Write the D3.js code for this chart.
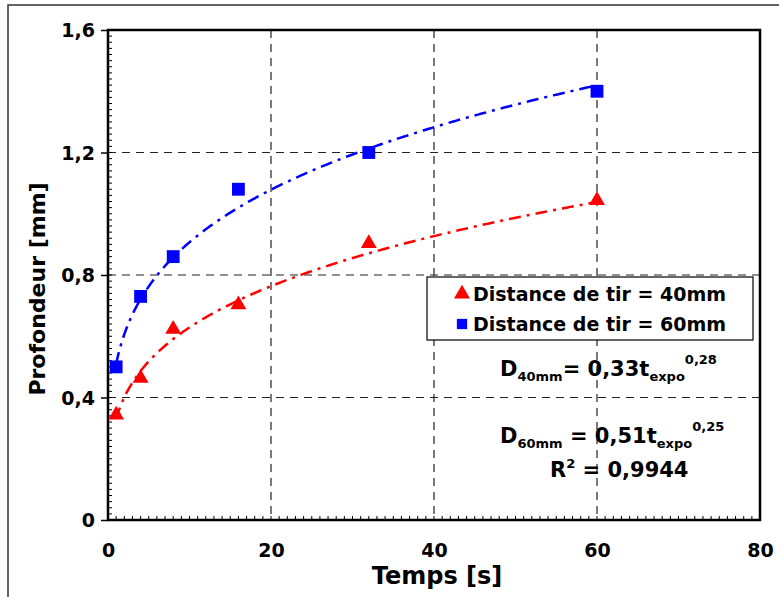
<!DOCTYPE html>
<meta charset="utf-8">
<style>
body { margin: 0; background: #fff; }
text { font-family: "DejaVu Sans", Verdana, sans-serif; font-weight: bold; fill: #000; }
.grid line { stroke: #222; stroke-width: 1.2; stroke-dasharray: 8,6; }
</style>
<svg width="779" height="597"></svg>
<script src="https://d3js.org/d3.v7.min.js"></script>
<script>

// values
var temps = [1, 4, 8, 16, 32, 60];
var prof40 = [0.34, 0.46, 0.62, 0.70, 0.90, 1.04];
var prof60 = [0.50, 0.73, 0.86, 1.08, 1.20, 1.40];
// power fit coefficients printed on the chart: D = a * t^b
var fit40 = [0.33, 0.28];
var fit60 = [0.51, 0.25];
var xTicks = [0, 20, 40, 60, 80];
var yTicks = [0, 0.4, 0.8, 1.2, 1.6];
var yTickLabels = ["0", "0,4", "0,8", "1,2", "1,6"];
var legendLabels = ["Distance de tir = 40mm", "Distance de tir = 60mm"];

var svg = d3.select("svg");
var plotL = 108, plotR = 760, plotT = 30, plotB = 520;

var x = d3.scaleLinear().domain([0, 80]).range([plotL, plotR]);
var y = d3.scaleLinear().domain([0, 1.6]).range([plotB, plotT]);

// outer frame (right and bottom edges fall outside the picture)
svg.append("path")
    .attr("d", "M8,600 L8,5 L785,5")
    .attr("fill", "none")
    .attr("stroke", "#333")
    .attr("stroke-width", 1.5);

// grid
var grid = svg.append("g").attr("class", "grid");
grid.selectAll(".gy").data(yTicks.slice(1, -1)).enter().append("line")
    .attr("x1", plotL).attr("x2", plotR)
    .attr("y1", function(d) { return y(d); })
    .attr("y2", function(d) { return y(d); });
grid.selectAll(".gx").data(xTicks.slice(1, -1)).enter().append("line")
    .attr("y1", plotT).attr("y2", plotB)
    .attr("x1", function(d) { return x(d); })
    .attr("x2", function(d) { return x(d); });

// minor ticks, inside
var minor = svg.append("g").attr("stroke", "#000").attr("stroke-width", 1);
minor.selectAll(".my").data(d3.range(0, 81).map(function(i) { return i * 0.02; })).enter().append("line")
    .attr("x1", plotL).attr("x2", plotL + 4)
    .attr("y1", function(d) { return y(d); })
    .attr("y2", function(d) { return y(d); });
minor.selectAll(".mx").data(d3.range(0, 81)).enter().append("line")
    .attr("y1", plotB).attr("y2", plotB - 4)
    .attr("x1", function(d) { return x(d); })
    .attr("x2", function(d) { return x(d); });

// y axis with outside major ticks and labels
var yAxis = d3.axisLeft(y)
    .tickValues(yTicks)
    .tickSize(7)
    .tickPadding(6)
    .tickFormat(function(d, i) { return yTickLabels[i]; });
var gy = svg.append("g").attr("transform", "translate(" + plotL + ",0)").call(yAxis);
gy.select(".domain").remove();
gy.selectAll("line").attr("stroke", "#000").attr("stroke-width", 1.5);
gy.selectAll("text").style("font-size", "19px").attr("dy", "0.36em");

var xAxis = d3.axisBottom(x)
    .tickValues(xTicks)
    .tickSize(0)
    .tickPadding(24)
    .tickFormat(d3.format("d"));
var gx = svg.append("g").attr("transform", "translate(0," + plotB + ")").call(xAxis);
gx.select(".domain").remove();
gx.selectAll("text").style("font-size", "19px");

// plot border
svg.append("rect")
    .attr("x", plotL).attr("y", plotT)
    .attr("width", plotR - plotL).attr("height", plotB - plotT)
    .attr("fill", "none")
    .attr("stroke", "#000")
    .attr("stroke-width", 2.5);

// axis titles
svg.append("text")
    .attr("transform", "translate(45," + ((plotT + plotB) / 2 + 14) + ") rotate(-90)")
    .attr("text-anchor", "middle")
    .style("font-size", "22px")
    .text("Profondeur [mm]");
svg.append("text")
    .attr("x", 437).attr("y", 584)
    .attr("text-anchor", "middle")
    .style("font-size", "24px")
    .text("Temps [s]");

// trend lines from the printed fits
var tFit = d3.range(1, 60.01, 0.25);
var line = d3.line()
    .x(function(d) { return x(d[0]); })
    .y(function(d) { return y(d[1]); });
function fitPoints(c) {
  return tFit.map(function(t) { return [t, c[0] * Math.pow(t, c[1])]; });
}
var plot = svg.append("g");
plot.append("path")
    .attr("d", line(fitPoints(fit40)))
    .attr("fill", "none")
    .attr("stroke", "#ff0000")
    .attr("stroke-width", 2.5)
    .attr("stroke-dasharray", "12,6,3,6");
plot.append("path")
    .attr("d", line(fitPoints(fit60)))
    .attr("fill", "none")
    .attr("stroke", "#0000ff")
    .attr("stroke-width", 2.5)
    .attr("stroke-dasharray", "12,6,3,6");

// markers
var tri = d3.symbol().type(d3.symbolTriangle).size(110);
var sq = d3.symbol().type(d3.symbolSquare).size(165);
plot.selectAll(".p40").data(temps).enter().append("path")
    .attr("d", tri)
    .attr("fill", "#ff0000")
    .attr("transform", function(d, i) { return "translate(" + x(d) + "," + (y(prof40[i]) - 1) + ")"; });
plot.selectAll(".p60").data(temps).enter().append("path")
    .attr("d", sq)
    .attr("fill", "#0000ff")
    .attr("transform", function(d, i) { return "translate(" + x(d) + "," + y(prof60[i]) + ")"; });

// legend
var lg = svg.append("g").attr("transform", "translate(427,277)");
lg.append("rect")
    .attr("width", 326).attr("height", 63)
    .attr("fill", "#fff")
    .attr("stroke", "#000")
    .attr("stroke-width", 1.2);
var shapes = [tri, sq];
var colors = ["#ff0000", "#0000ff"];
legendLabels.forEach(function(lbl, i) {
  var cy = 17 + i * 30;
  lg.append("path")
      .attr("d", shapes[i])
      .attr("fill", colors[i])
      .attr("transform", "translate(35," + cy + ")" + (i === 1 ? " scale(0.8)" : ""));
  lg.append("text")
      .attr("x", 46).attr("y", cy)
      .attr("dy", "0.36em")
      .style("font-size", "19px")
      .text(lbl);
});

// equations
function equation(xp, yp, sub, coef, expo) {
  var t = svg.append("text").attr("x", xp).attr("y", yp).style("font-size", "21px");
  t.append("tspan").text("D");
  t.append("tspan").attr("dy", 5).style("font-size", "13px").text(sub);
  t.append("tspan").attr("dy", -5).text(coef);
  t.append("tspan").attr("dy", 5).style("font-size", "13px").text("expo");
  t.append("tspan").attr("dy", -17).style("font-size", "13px").text(expo);
}
equation(500, 376, "40mm", "= 0,33t", "0,28");
equation(500, 443, "60mm", " = 0,51t", "0,25");
var r2 = svg.append("text").attr("x", 550).attr("y", 477).style("font-size", "21px");
r2.append("tspan").text("R");
r2.append("tspan").attr("dy", -9).style("font-size", "13px").text("2");
r2.append("tspan").attr("dy", 9).text(" = 0,9944");

</script>
